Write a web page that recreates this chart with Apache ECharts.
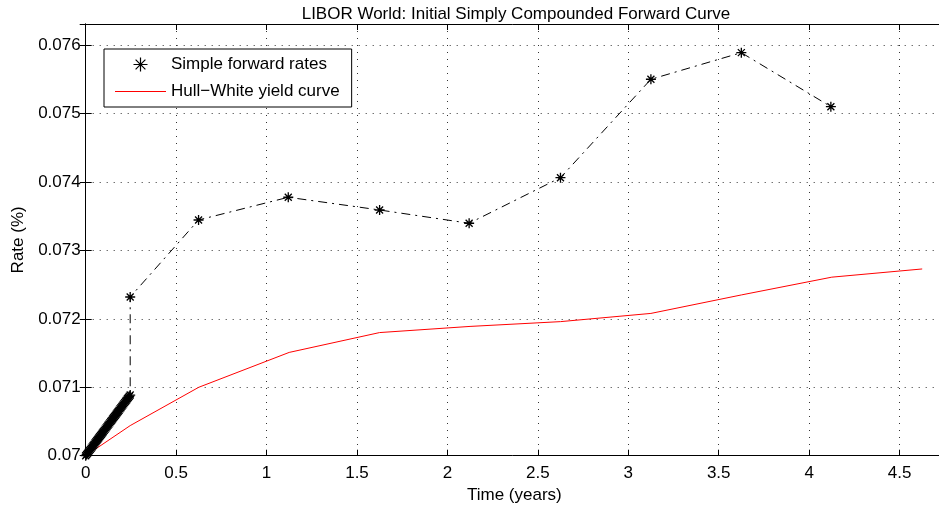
<!DOCTYPE html>
<html>
<head>
<meta charset="utf-8">
<script src="https://cdn.jsdelivr.net/npm/echarts@6/dist/echarts.min.js"></script>
<style>
  html, body { margin: 0; padding: 0; background: #fff; }
  #chart { width: 939px; height: 507px; }
</style>
</head>
<body>
<div id="chart"></div>
<script>
// Short-end simple forward rates (dense fixings up to ~3 months)
const shortTimes = [0, 0.0051, 0.0103, 0.0154, 0.0205, 0.0256, 0.0308, 0.0359, 0.0410, 0.0461,
  0.0513, 0.0564, 0.0615, 0.0666, 0.0718, 0.0769, 0.0820, 0.0871, 0.0923, 0.0974,
  0.1025, 0.1076, 0.1128, 0.1179, 0.1230, 0.1281, 0.1333, 0.1384, 0.1435, 0.1486,
  0.1538, 0.1589, 0.1640, 0.1691, 0.1743, 0.1794, 0.1845, 0.1896, 0.1948, 0.1999,
  0.2050, 0.2101, 0.2153, 0.2204, 0.2255, 0.2306, 0.2358, 0.2409, 0.2460];
const shortRates = [0.070000, 0.070018, 0.070037, 0.070055, 0.070074, 0.070092, 0.070111, 0.070129,
  0.070148, 0.070166, 0.070185, 0.070203, 0.070222, 0.070240, 0.070259, 0.070277, 0.070296,
  0.070314, 0.070333, 0.070351, 0.070370, 0.070388, 0.070407, 0.070425, 0.070444, 0.070462,
  0.070480, 0.070499, 0.070517, 0.070536, 0.070554, 0.070573, 0.070591, 0.070610, 0.070628,
  0.070647, 0.070665, 0.070684, 0.070702, 0.070721, 0.070739, 0.070758, 0.070776, 0.070795,
  0.070813, 0.070832, 0.070850, 0.070869, 0.070887];

// Longer-tenor simple forward rates
const longTimes = [0.246, 0.624, 1.120, 1.625, 2.120, 2.625, 3.125, 3.625, 4.120];
const longRates = [0.07232, 0.073446, 0.073778, 0.073592, 0.073398, 0.074064, 0.075503, 0.075892, 0.075102];

// Hull-White model yield curve
const hwTimes = [0, 0.246, 0.625, 1.125, 1.625, 2.125, 2.625, 3.125, 3.625, 4.125, 4.625];
const hwRates = [0.07000, 0.07044, 0.07100, 0.07151, 0.07180, 0.07189, 0.07196, 0.07208, 0.07235, 0.07261, 0.07273];

const fwdTimes = shortTimes.concat(longTimes);
const fwdRates = shortRates.concat(longRates);
const fwdPairs = fwdTimes.map((t, i) => [t, fwdRates[i]]);
const hwPairs = hwTimes.map((t, i) => [t, hwRates[i]]);

const FONT = '"Liberation Sans", Arial, Helvetica, sans-serif';
const STAR = 'path://M0,-1L0,1M-1,0L1,0M-0.7,-0.7L0.7,0.7M-0.7,0.7L0.7,-0.7';
const THIN_LINE = 'path://M0,0L51,0L51,1L0,1Z';
const dotted = { type: [1, 6], color: '#333', width: 1 };

const chart = echarts.init(document.getElementById('chart'), null, { renderer: 'canvas' });
chart.setOption({
  animation: false,
  backgroundColor: '#fff',
  title: {
    text: 'LIBOR World: Initial Simply Compounded Forward Curve',
    left: 511, top: 1, textAlign: 'center',
    textStyle: { fontFamily: FONT, fontSize: 17, fontWeight: 'normal', color: '#000' }
  },
  legend: {
    orient: 'vertical',
    left: 104, top: 49,
    padding: [7, 12, 7, 11],
    itemWidth: 51, itemHeight: 14, itemGap: 10,
    backgroundColor: '#fff',
    borderColor: '#000', borderWidth: 1, borderRadius: 0,
    textStyle: { fontFamily: FONT, fontSize: 17, color: '#000' },
    data: [
      { name: 'Simple forward rates', icon: STAR,
        itemStyle: { color: 'rgba(0,0,0,0)', borderColor: '#000', borderWidth: 1.2 } },
      { name: 'Hull\u2212White yield curve', icon: THIN_LINE,
        itemStyle: { color: '#ff0000', borderWidth: 0 } }
    ]
  },
  grid: { left: 85.7, top: 24, right: -4, bottom: 51.3, containLabel: false, outerBoundsMode: 'none' },
  xAxis: [{
    type: 'value', min: 0, max: 4.74, interval: 0.5,
    name: 'Time (years)', nameLocation: 'middle', nameGap: 29,
    nameTextStyle: { fontFamily: FONT, fontSize: 17, color: '#000' },
    axisLine: { show: true, onZero: false, lineStyle: { color: '#000', width: 1 } },
    axisTick: { show: true, inside: true, length: 6, lineStyle: { color: '#000' } },
    axisLabel: { fontFamily: FONT, fontSize: 17, color: '#000', margin: 9, showMaxLabel: false,
      formatter: v => String(+v.toFixed(2)) },
    splitLine: { show: true, lineStyle: dotted }
  }, {
    type: 'value', min: 0, max: 4.74, interval: 0.5, position: 'top',
    axisLine: { show: true, lineStyle: { color: '#000', width: 1 } },
    axisTick: { show: true, inside: true, length: 6, lineStyle: { color: '#000' } },
    axisLabel: { show: false }, splitLine: { show: false }
  }],
  yAxis: [{
    type: 'value', min: 0.07, max: 0.076311, interval: 0.001,
    name: 'Rate (%)', nameLocation: 'middle', nameGap: 55, nameRotate: 90,
    nameTextStyle: { fontFamily: FONT, fontSize: 17, color: '#000' },
    axisLine: { show: true, onZero: false, lineStyle: { color: '#000', width: 1 } },
    axisTick: { show: true, inside: true, length: 6, lineStyle: { color: '#000' } },
    axisLabel: { fontFamily: FONT, fontSize: 17, color: '#000', margin: 5, showMaxLabel: false,
      formatter: v => String(+v.toFixed(4)) },
    splitLine: { show: true, lineStyle: dotted }
  }, {
    type: 'value', min: 0.07, max: 0.076311, interval: 0.001, position: 'right',
    axisLine: { show: true, lineStyle: { color: '#000', width: 1 } },
    axisTick: { show: true, inside: true, length: 6, lineStyle: { color: '#000' } },
    axisLabel: { show: false }, splitLine: { show: false }
  }],
  series: [
    {
      // dash-dot connector through the forward rate points
      type: 'line', xAxisIndex: 0, yAxisIndex: 0,
      data: fwdPairs, symbol: 'none', silent: true,
      lineStyle: { color: '#000', width: 1, type: [9, 5, 2, 5] },
      z: 2
    },
    {
      name: 'Hull\u2212White yield curve',
      type: 'line', xAxisIndex: 0, yAxisIndex: 0,
      data: hwPairs, symbol: 'none',
      lineStyle: { color: '#ff0000', width: 1 },
      itemStyle: { color: '#ff0000' },
      z: 3
    },
    {
      name: 'Simple forward rates',
      type: 'scatter', xAxisIndex: 0, yAxisIndex: 0,
      data: fwdPairs, symbol: STAR, symbolSize: 10,
      itemStyle: { color: 'rgba(0,0,0,0)', borderColor: '#000', borderWidth: 1.3, opacity: 1 },
      z: 4
    }
  ]
});
</script>
</body>
</html>
